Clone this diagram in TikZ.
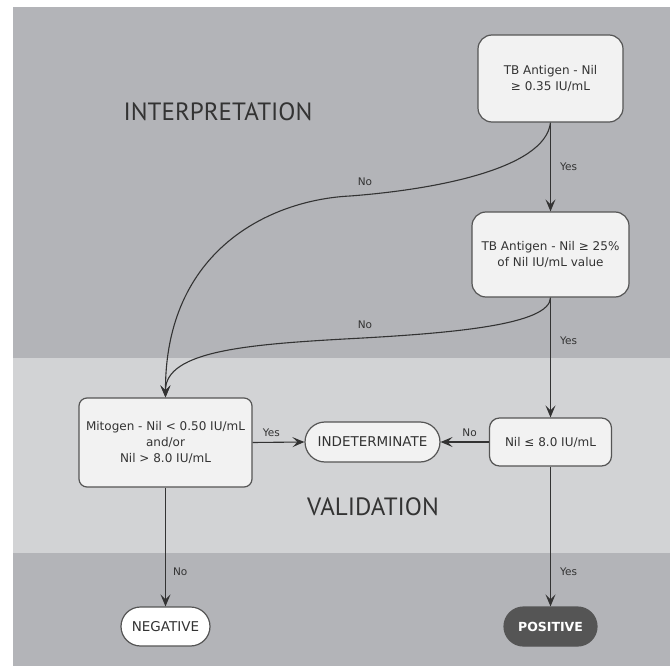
\documentclass[tikz,border=0pt]{standalone}
\usepackage{fontspec}
\setmainfont{DejaVu Sans}
\newfontfamily\headfont{PT Sans}
\usetikzlibrary{arrows.meta}
\definecolor{bgdark}{RGB}{179,180,184}
\definecolor{bglight}{RGB}{210,211,213}
\definecolor{ink}{RGB}{51,51,51}
\definecolor{boxfill}{RGB}{242,242,242}
\definecolor{boxline}{RGB}{85,85,85}
\definecolor{posfill}{RGB}{85,85,85}
\tikzset{
  box/.style={draw=boxline, line width=1.2pt, fill=boxfill, text=ink, align=center,
    font=\fontsize{12}{16}\selectfont, inner sep=2pt},
  term/.style={draw=boxline, line width=1.2pt, text=ink, align=center,
    font=\fontsize{13.5}{16}\selectfont, inner sep=2pt},
  lbl/.style={text=ink, font=\fontsize{10.5}{12}\selectfont, inner sep=1pt},
  head/.style={text=ink, font=\headfont\fontsize{25}{28}\selectfont, inner sep=0pt},
  arr/.style={draw=ink, line width=1.1pt, -{Stealth[length=12pt,width=10pt,inset=5pt]}}
}
\begin{document}
\begin{tikzpicture}[x=1pt,y=-1pt]
\useasboundingbox (0,0) rectangle (670,666);
\fill[bgdark] (13,7) rectangle (670,666);
\fill[bglight] (13,358) rectangle (670,553);

\node[head] (hint) at (218,112) {INTERPRETATION};
\node[head] (hval) at (373,507) {VALIDATION};

\node[box, minimum width=145, minimum height=87, rounded corners=14] (tb1) at (550.5,78.5) {TB Antigen - Nil\\≥ 0.35 IU/mL};
\node[box, minimum width=157, minimum height=85, rounded corners=14] (tb2) at (550.5,254.5) {TB Antigen - Nil ≥ 25\%\\of Nil IU/mL value};
\node[box, minimum width=173, minimum height=89, rounded corners=8] (mito) at (165.5,442.5) {Mitogen - Nil < 0.50 IU/mL\\and/or\\Nil > 8.0 IU/mL};
\node[term, fill=boxfill, minimum width=135, minimum height=40, rounded corners=20] (ind) at (372.5,442) {INDETERMINATE};
\node[box, minimum width=122, minimum height=48, rounded corners=10] (nil8) at (550.5,442) {Nil ≤ 8.0 IU/mL};
\node[term, fill=white, minimum width=89, minimum height=39, rounded corners=19.5] (neg) at (165.5,626.5) {NEGATIVE};
\node[term, fill=posfill, text=white, font=\bfseries\fontsize{12.5}{14}\selectfont, minimum width=93, minimum height=39, rounded corners=19.5] (pos) at (550.5,626.5) {POSITIVE};

\draw[arr] (tb1.south) -- node[lbl, pos=0.5, right=8pt] (y1) {Yes} (tb2.north);
\draw[arr] (tb2.south) -- node[lbl, pos=0.36, right=8pt] (y2) {Yes} (nil8.north);
\draw[arr] (mito.east) -- node[lbl, pos=0.36, above=4pt] (y3) {Yes} (ind.west);
\draw[arr] (nil8.west) -- node[lbl, pos=0.4, above=4pt] (n3) {No} (ind.east);
\draw[arr] (mito.south) -- node[lbl, pos=0.71, right=6pt] (n4) {No} (neg.north);
\draw[arr] (nil8.south) -- node[lbl, pos=0.75, right=8pt] (y4) {Yes} (pos.north);

\draw[arr] (tb1.south) .. controls (545,170) and (430,190) .. (350,196)
  .. controls (270,200) and (165,250) .. (mito.north);
\draw[arr] (tb2.south) .. controls (550,325) and (450,333) .. (363,338)
  .. controls (250,344) and (165,350) .. (mito.north);
\node[lbl] (n1) at (365,182) {No};
\node[lbl] (n2) at (365,325) {No};
\end{tikzpicture}
\end{document}
